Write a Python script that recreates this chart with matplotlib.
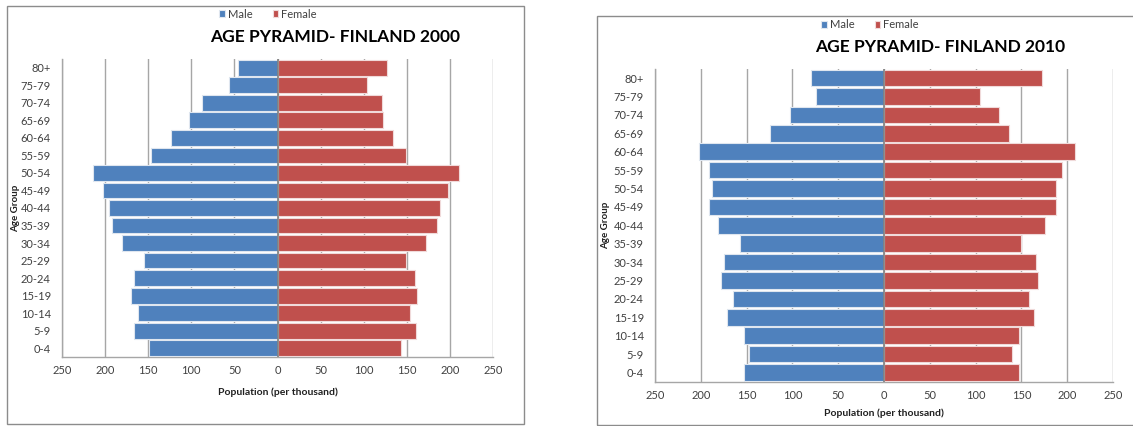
import matplotlib
matplotlib.use("Agg")
import matplotlib.pyplot as plt
from matplotlib.patches import Rectangle
import numpy as np

age_groups = ["0-4", "5-9", "10-14", "15-19", "20-24", "25-29", "30-34", "35-39",
              "40-44", "45-49", "50-54", "55-59", "60-64", "65-69", "70-74", "75-79", "80+"]

male_2000 = [149, 166, 162, 170, 166, 155, 180, 192, 195, 202, 214, 147, 124, 103, 88, 56, 46]
female_2000 = [143, 161, 154, 162, 159, 149, 172, 185, 188, 198, 211, 149, 134, 122, 121, 104, 127]

male_2010 = [153, 147, 153, 171, 165, 178, 175, 157, 181, 191, 188, 191, 202, 124, 103, 74, 80]
female_2010 = [147, 140, 147, 164, 158, 168, 166, 150, 176, 188, 188, 194, 209, 136, 125, 105, 173]

x_ticks = [-250, -200, -150, -100, -50, 0, 50, 100, 150, 200, 250]

BLUE = "#4F81BD"
RED = "#C0504D"
GRID = "#a6a6a6"
FONT = ["Lato", "DejaVu Sans"]
plt.rcParams["font.family"] = FONT

W, H = 1133, 426
fig = plt.figure(figsize=(W / 100, H / 100), dpi=100)


def px_rect(x0, y0, x1, y1):
    return [x0 / W, 1 - y1 / H, (x1 - x0) / W, (y1 - y0) / H]


# panel borders
for (x0, y0, x1, y1) in [(7, 5.5, 524, 424), (597, 16, 1140, 425)]:
    fig.patches.append(Rectangle((x0 / W, 1 - y1 / H), (x1 - x0) / W, (y1 - y0) / H,
                                 transform=fig.transFigure, fill=False,
                                 edgecolor="#8c8c8c", linewidth=1.0))


def draw(axrect, male, female, title, title_xy, legend_xy, ylab_x, xlab_y):
    ax = fig.add_axes(px_rect(*axrect))
    y = np.arange(len(age_groups))
    ax.barh(y, -np.array(male), height=0.9, color=BLUE, edgecolor="#dfe6ef",
            linewidth=0.8, zorder=3, label="Male")
    ax.barh(y, female, height=0.9, color=RED, edgecolor="#f0dada",
            linewidth=0.8, zorder=3, label="Female")
    ax.set_xlim(-250, 250)
    ax.set_ylim(-0.5, len(age_groups) - 0.5)
    ax.set_xticks(x_ticks)
    ax.set_xticklabels([str(abs(v)) for v in x_ticks], fontsize=8, color="#404040")
    ax.set_yticks(y)
    ax.set_yticklabels(age_groups, fontsize=8, color="#404040")
    ax.tick_params(axis="both", length=0, pad=6)
    ax.tick_params(axis="y", pad=8)
    ax.xaxis.grid(True, color=GRID, linewidth=1.0, zorder=0)
    ax.set_axisbelow(True)
    ax.axvline(0, color="#808080", linewidth=1.2, zorder=4)
    for s in ["top", "right"]:
        ax.spines[s].set_visible(False)
    for s in ["left", "bottom"]:
        ax.spines[s].set_color(GRID)
        ax.spines[s].set_linewidth(1.0)
    # labels
    fig.text(title_xy[0] / W, 1 - title_xy[1] / H, title, fontsize=12.5, fontweight="bold",
             ha="center", va="center", color="black")
    fig.text((ylab_x) / W, 1 - (axrect[1] + axrect[3]) / 2 / H, "Age Group", rotation=90,
             fontsize=7, fontweight="bold", ha="center", va="center", color="#202020")
    fig.text((axrect[0] + axrect[2]) / 2 / W, 1 - xlab_y / H, "Population (per thousand)",
             fontsize=7.5, fontweight="bold", ha="center", va="center", color="#202020")
    leg = ax.legend(loc="center", bbox_to_anchor=(legend_xy[0] / W, 1 - legend_xy[1] / H),
                    bbox_transform=fig.transFigure, ncol=2, frameon=False, fontsize=8,
                    handlelength=0.5, handleheight=0.5, handletextpad=0.3, columnspacing=1.8)
    for t in leg.get_texts():
        t.set_color("#404040")
    return ax


draw((62, 59, 493, 357), male_2000, female_2000, "AGE PYRAMID- FINLAND 2000",
     (335, 37), (268, 14), 16, 392)
draw((655, 69, 1113, 381.7), male_2010, female_2010, "AGE PYRAMID- FINLAND 2010",
     (940, 47), (870, 25), 606, 413)

fig.savefig("out.png", dpi=100)
